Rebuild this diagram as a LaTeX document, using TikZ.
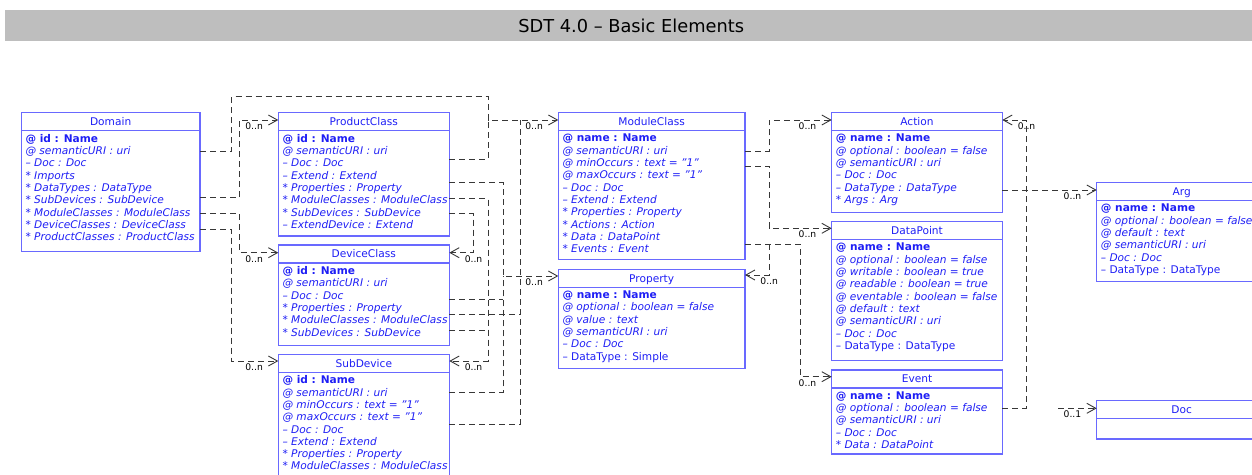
\documentclass[tikz,border=0pt]{standalone}
\usepackage{fontspec}
\setmainfont{DejaVu Sans}
\usetikzlibrary{arrows.meta}
\definecolor{umlblue}{RGB}{30,30,245}
\definecolor{umlframe}{RGB}{105,105,255}
\definecolor{linkgray}{RGB}{55,55,55}
\definecolor{bannergray}{RGB}{190,190,190}
\tikzset{
	cls/.style={draw=umlframe,line width=1.1pt,anchor=north west,inner sep=0pt,outer sep=0pt},
	clsname/.style={text=umlblue,anchor=base,inner sep=0pt,font=\fontsize{10.6}{12}\selectfont},
	rows/.style={text=umlblue,anchor=north west,align=left,inner sep=0pt,font=\fontsize{10.6}{12.3}\selectfont},
	sep/.style={draw=umlframe,line width=1.1pt},
	link/.style={draw=linkgray,line width=0.9pt,dash pattern=on 6pt off 4pt},
	tip/.style={-{Straight Barb[length=9pt,width=10pt]}},
	multr/.style={anchor=north east,xshift=-15pt,yshift=-2.2pt,inner sep=0pt,font=\fontsize{9.2}{10}\selectfont},
	multl/.style={anchor=north west,xshift=15pt,yshift=-2.2pt,inner sep=0pt,font=\fontsize{9.2}{10}\selectfont},
}
\begin{document}
\begin{tikzpicture}[x=1pt,y=-1pt]
	\useasboundingbox (0,0) rectangle (1252,474);
	\clip (0,0) rectangle (1252,474);
	\node[fill=bannergray,anchor=north west,minimum width=1252pt,minimum height=31pt,inner sep=0pt,font=\fontsize{17.8}{20}\selectfont] (banner) at (5,10) {SDT 4.0 – Basic Elements};
	% classes
	\node[cls,minimum width=178.7pt,minimum height=139pt] (domain) at (21.3,112.7) {};
	\node[clsname] at ([yshift=-12.9pt]domain.north) {Domain};
	\draw[sep] ([yshift=-18pt]domain.north west) -- ([yshift=-18pt]domain.north east);
	\node[rows] at ([xshift=4pt,yshift=-21.3pt]domain.north west) {\textbf{@ id : Name}\\\textit{@ semanticURI : uri}\\\textit{– Doc : Doc}\\\textit{* Imports}\\\textit{* DataTypes : DataType}\\\textit{* SubDevices : SubDevice}\\\textit{* ModuleClasses : ModuleClass}\\\textit{* DeviceClasses : DeviceClass}\\\textit{* ProductClasses : ProductClass}};
	\node[cls,minimum width=171pt,minimum height=123.3pt] (product) at (278.3,112.7) {};
	\node[clsname] at ([yshift=-12.9pt]product.north) {ProductClass};
	\draw[sep] ([yshift=-18pt]product.north west) -- ([yshift=-18pt]product.north east);
	\node[rows] at ([xshift=4pt,yshift=-21.3pt]product.north west) {\textbf{@ id : Name}\\\textit{@ semanticURI : uri}\\\textit{– Doc : Doc}\\\textit{– Extend : Extend}\\\textit{* Properties : Property}\\\textit{* ModuleClasses : ModuleClass}\\\textit{* SubDevices : SubDevice}\\\textit{– ExtendDevice : Extend}};
	\node[cls,minimum width=171pt,minimum height=100.3pt] (device) at (278.3,245) {};
	\node[clsname] at ([yshift=-12.9pt]device.north) {DeviceClass};
	\draw[sep] ([yshift=-18pt]device.north west) -- ([yshift=-18pt]device.north east);
	\node[rows] at ([xshift=4pt,yshift=-21.3pt]device.north west) {\textbf{@ id : Name}\\\textit{@ semanticURI : uri}\\\textit{– Doc : Doc}\\\textit{* Properties : Property}\\\textit{* ModuleClasses : ModuleClass}\\\textit{* SubDevices : SubDevice}};
	\node[cls,minimum width=171pt,minimum height=180pt] (subdev) at (278.3,354.3) {};
	\node[clsname] at ([yshift=-12.9pt]subdev.north) {SubDevice};
	\draw[sep] ([yshift=-18pt]subdev.north west) -- ([yshift=-18pt]subdev.north east);
	\node[rows] at ([xshift=4pt,yshift=-21.3pt]subdev.north west) {\textbf{@ id : Name}\\\textit{@ semanticURI : uri}\\\textit{@ minOccurs : text = "1"}\\\textit{@ maxOccurs : text = "1"}\\\textit{– Doc : Doc}\\\textit{– Extend : Extend}\\\textit{* Properties : Property}\\\textit{* ModuleClasses : ModuleClass}};
	\node[cls,minimum width=186.7pt,minimum height=146.6pt] (module) at (558.3,112.7) {};
	\node[clsname] at ([yshift=-12.9pt]module.north) {ModuleClass};
	\draw[sep] ([yshift=-18pt]module.north west) -- ([yshift=-18pt]module.north east);
	\node[rows] at ([xshift=4pt,yshift=-21.3pt]module.north west) {\textbf{@ name : Name}\\\textit{@ semanticURI : uri}\\\textit{@ minOccurs : text = "1"}\\\textit{@ maxOccurs : text = "1"}\\\textit{– Doc : Doc}\\\textit{– Extend : Extend}\\\textit{* Properties : Property}\\\textit{* Actions : Action}\\\textit{* Data : DataPoint}\\\textit{* Events : Event}};
	\node[cls,minimum width=186.7pt,minimum height=99pt] (property) at (558.3,269.3) {};
	\node[clsname] at ([yshift=-12.9pt]property.north) {Property};
	\draw[sep] ([yshift=-18pt]property.north west) -- ([yshift=-18pt]property.north east);
	\node[rows] at ([xshift=4pt,yshift=-21.3pt]property.north west) {\textbf{@ name : Name}\\\textit{@ optional : boolean = false}\\\textit{@ value : text}\\\textit{@ semanticURI : uri}\\\textit{– Doc : Doc}\\– DataType : Simple};
	\node[cls,minimum width=170.6pt,minimum height=99.6pt] (action) at (831.7,112.7) {};
	\node[clsname] at ([yshift=-12.9pt]action.north) {Action};
	\draw[sep] ([yshift=-18pt]action.north west) -- ([yshift=-18pt]action.north east);
	\node[rows] at ([xshift=4pt,yshift=-21.3pt]action.north west) {\textbf{@ name : Name}\\\textit{@ optional : boolean = false}\\\textit{@ semanticURI : uri}\\\textit{– Doc : Doc}\\\textit{– DataType : DataType}\\\textit{* Args : Arg}};
	\node[cls,minimum width=170.6pt,minimum height=139pt] (datapoint) at (831.7,221.7) {};
	\node[clsname] at ([yshift=-12.9pt]datapoint.north) {DataPoint};
	\draw[sep] ([yshift=-18pt]datapoint.north west) -- ([yshift=-18pt]datapoint.north east);
	\node[rows] at ([xshift=4pt,yshift=-21.3pt]datapoint.north west) {\textbf{@ name : Name}\\\textit{@ optional : boolean = false}\\\textit{@ writable : boolean = true}\\\textit{@ readable : boolean = true}\\\textit{@ eventable : boolean = false}\\\textit{@ default : text}\\\textit{@ semanticURI : uri}\\\textit{– Doc : Doc}\\– DataType : DataType};
	\node[cls,minimum width=170.6pt,minimum height=84pt] (event) at (831.7,370) {};
	\node[clsname] at ([yshift=-12.9pt]event.north) {Event};
	\draw[sep] ([yshift=-18pt]event.north west) -- ([yshift=-18pt]event.north east);
	\node[rows] at ([xshift=4pt,yshift=-21.3pt]event.north west) {\textbf{@ name : Name}\\\textit{@ optional : boolean = false}\\\textit{@ semanticURI : uri}\\\textit{– Doc : Doc}\\\textit{* Data : DataPoint}};
	\node[cls,minimum width=170pt,minimum height=99pt] (arg) at (1096.7,182.7) {};
	\node[clsname] at ([yshift=-12.9pt]arg.north) {Arg};
	\draw[sep] ([yshift=-18pt]arg.north west) -- ([yshift=-18pt]arg.north east);
	\node[rows] at ([xshift=4pt,yshift=-21.3pt]arg.north west) {\textbf{@ name : Name}\\\textit{@ optional : boolean = false}\\\textit{@ default : text}\\\textit{@ semanticURI : uri}\\\textit{– Doc : Doc}\\– DataType : DataType};
	\node[cls,minimum width=170pt,minimum height=38.3pt] (doc) at (1096.7,400.7) {};
	\node[clsname] at ([yshift=-12.9pt]doc.north) {Doc};
	\draw[sep] ([yshift=-18pt]doc.north west) -- ([yshift=-18pt]doc.north east);
	% junctions
	\coordinate (mjoin) at (488,120);
	\coordinate (mbus) at (520,120);
	\coordinate (pbus) at (503,276);
	\coordinate (sbus) at (488,361);
	\coordinate (dbus) at (473,252.7);
	\coordinate (pjoin) at (769.3,244.3);
	\coordinate (docstub) at (1058,408.3);
	% links
	\draw[link,tip] (domain.east|-0,151) -| (231.7,96.7) -| (mjoin) -- (module.west|-mjoin) node[multr]{0..n};
	\draw[link,tip] (domain.east|-0,197.7) -| (239.3,120) -- (product.west|-0,120) node[multr]{0..n};
	\draw[link,tip] (domain.east|-0,213.3) -| (239.3,252.7) -- (device.west|-0,252.7) node[multr]{0..n};
	\draw[link,tip] (domain.east|-0,229.3) -| (231.7,361) -- (subdev.west|-0,361) node[multr]{0..n};
	\draw[link] (product.east|-0,159) -| (mjoin);
	\draw[link] (subdev.east|-0,424) -| (mbus);
	\draw[link] (device.east|-0,314) -- (mbus|-0,314);
	\draw[link,tip] (product.east|-0,182.7) -| (pbus) -- (property.west|-pbus) node[multr]{0..n};
	\draw[link] (device.east|-0,299) -- (pbus|-0,299);
	\draw[link] (subdev.east|-0,392.7) -| (pbus);
	\draw[link,tip] (product.east|-0,198.3) -| (sbus) -- (subdev.east|-sbus) node[multl]{0..n};
	\draw[link] (device.east|-0,330) -- (sbus|-0,330);
	\draw[link,tip] (product.east|-0,213.3) -| (dbus) -- (device.east|-dbus) node[multl]{0..n};
	\draw[link,tip] (module.east|-0,151) -| (769.3,120) -- (action.west|-0,120) node[multr]{0..n};
	\draw[link,tip] (module.east|-0,166.7) -| (769.3,228.3) -- (datapoint.west|-0,228.3) node[multr]{0..n};
	\draw[link,tip] (module.east|-pjoin) -| (800,376.7) -- (event.west|-0,376.7) node[multr]{0..n};
	\draw[link,tip] (pjoin) |- (property.east|-0,275) node[multl]{0..n};
	\draw[link,tip] (event.east|-0,408.3) -| (1026,120) -- (action.east|-0,120) node[multl]{0..n};
	\draw[link,tip] (action.east|-0,190) -- (arg.west|-0,190) node[multr]{0..n};
	\draw[link,tip] (docstub) -- (doc.west|-docstub) node[multr]{0..1};
\end{tikzpicture}
\end{document}
